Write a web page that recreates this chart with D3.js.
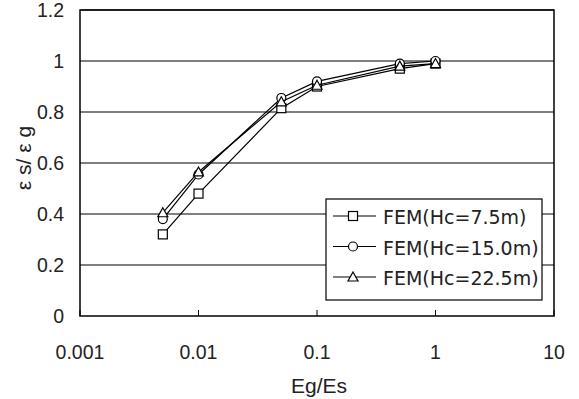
<!DOCTYPE html>
<html>
<head>
  <script src="https://d3js.org/d3.v7.min.js"></script>
  <style>
  body { margin: 0; background: #fff; }
  svg { font-family: "Liberation Sans", Arial, sans-serif; }
  </style>
</head>
<body>
  <script>
    var ratios = [0.005, 0.01, 0.05, 0.1, 0.5, 1];
    var seriesNames = ["FEM(Hc=7.5m)", "FEM(Hc=15.0m)", "FEM(Hc=22.5m)"];
    var hc75 = [0.32, 0.48, 0.815, 0.90, 0.97, 0.99];
    var hc150 = [0.38, 0.555, 0.855, 0.92, 0.99, 1.0];
    var hc225 = [0.405, 0.565, 0.84, 0.905, 0.98, 0.99];
    var xTicks = [0.001, 0.01, 0.1, 1, 10];
    var yTicks = [0, 0.2, 0.4, 0.6, 0.8, 1, 1.2];

    var width = 579, height = 399;
    var margin = {left: 80, top: 10, right: 25, bottom: 83};

    var svg = d3.select("body").append("svg")
      .attr("width", width)
      .attr("height", height);

    var x = d3.scaleLog()
      .domain([0.001, 10])
      .range([margin.left, width - margin.right]);

    var y = d3.scaleLinear()
      .domain([0, 1.2])
      .range([height - margin.bottom, margin.top]);

    // gridlines
    svg.append("g").selectAll("line")
      .data(yTicks.filter(function(d) { return d > 0; }))
      .enter().append("line")
      .attr("x1", x(0.001)).attr("x2", x(10))
      .attr("y1", function(d) { return y(d); })
      .attr("y2", function(d) { return y(d); })
      .attr("stroke", "#000").attr("stroke-width", 1.2);

    // frame
    svg.append("rect")
      .attr("x", x(0.001)).attr("y", y(1.2))
      .attr("width", x(10) - x(0.001))
      .attr("height", y(0) - y(1.2))
      .attr("fill", "none").attr("stroke", "#000").attr("stroke-width", 1.5);

    // x ticks (inside, pointing up)
    svg.append("g").selectAll("line")
      .data(xTicks)
      .enter().append("line")
      .attr("x1", function(d) { return x(d); })
      .attr("x2", function(d) { return x(d); })
      .attr("y1", y(0)).attr("y2", y(0) - 6)
      .attr("stroke", "#000");

    svg.append("g").selectAll("text")
      .data(xTicks)
      .enter().append("text")
      .attr("x", function(d) { return x(d); })
      .attr("y", y(0) + 43)
      .attr("text-anchor", "middle")
      .attr("font-size", 19.5)
      .attr("fill", "#222")
      .text(function(d) { return String(d); });

    svg.append("g").selectAll("text")
      .data(yTicks)
      .enter().append("text")
      .attr("x", x(0.001) - 16)
      .attr("y", function(d) { return y(d) + 7; })
      .attr("text-anchor", "end")
      .attr("font-size", 19.5)
      .attr("fill", "#222")
      .text(function(d) { return String(d); });

    svg.append("text")
      .attr("x", (x(0.001) + x(10)) / 2 + 2)
      .attr("y", 393)
      .attr("text-anchor", "middle")
      .attr("font-size", 21)
      .attr("fill", "#222")
      .text("Eg/Es");

    svg.append("text")
      .attr("transform", "translate(31,158) rotate(-90)")
      .attr("text-anchor", "middle")
      .attr("font-size", 21)
      .attr("fill", "#222")
      .text("ε s/ ε g");

    // series
    var allSeries = [hc75, hc150, hc225];
    var shapes = ["square", "circle", "triangle"];

    function drawMarker(g, shape, cx, cy) {
      if (shape === "square") {
        g.append("rect").attr("x", cx - 4.5).attr("y", cy - 4.5)
          .attr("width", 9).attr("height", 9);
      } else if (shape === "circle") {
        g.append("circle").attr("cx", cx).attr("cy", cy).attr("r", 4.5);
      } else {
        g.append("path").attr("d", "M" + cx + "," + (cy - 5) + "L" + (cx + 5) + "," + (cy + 4) + "L" + (cx - 5) + "," + (cy + 4) + "Z");
      }
    }

    var line = d3.line()
      .x(function(d) { return x(d[0]); })
      .y(function(d) { return y(d[1]); });

    allSeries.forEach(function(vals, i) {
      var pts = ratios.map(function(r, j) { return [r, vals[j]]; });
      svg.append("path")
        .datum(pts)
        .attr("d", line)
        .attr("fill", "none")
        .attr("stroke", "#000")
        .attr("stroke-width", 1.2);
      var g = svg.append("g").attr("fill", "#fff").attr("stroke", "#000").attr("stroke-width", 1.2);
      pts.forEach(function(p) { drawMarker(g, shapes[i], x(p[0]), y(p[1])); });
    });

    // legend
    var legend = svg.append("g");
    legend.append("rect")
      .attr("x", 326).attr("y", 199)
      .attr("width", 216).attr("height", 101)
      .attr("fill", "#fff").attr("stroke", "#000").attr("stroke-width", 1.2);

    var rowY = [216, 246.5, 277];
    seriesNames.forEach(function(name, i) {
      legend.append("line")
        .attr("x1", 333).attr("x2", 376)
        .attr("y1", rowY[i]).attr("y2", rowY[i])
        .attr("stroke", "#000").attr("stroke-width", 1.2);
      var g = legend.append("g").attr("fill", "#fff").attr("stroke", "#000").attr("stroke-width", 1.2);
      drawMarker(g, shapes[i], 353, rowY[i]);
      legend.append("text")
        .attr("x", 383)
        .attr("y", rowY[i] + 8)
        .attr("font-family", "'DejaVu Sans', sans-serif")
        .attr("font-size", 19)
        .attr("fill", "#222")
        .text(name);
    });
  </script>
</body>
</html>
